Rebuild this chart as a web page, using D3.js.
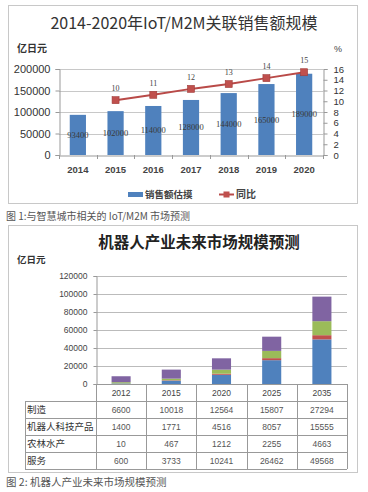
<!DOCTYPE html>
<html><head><meta charset="utf-8">
<script src="https://cdn.jsdelivr.net/npm/d3@7"></script>
<style>
html,body{margin:0;padding:0;background:#fff;}
svg{display:block;font-family:"Liberation Sans","Noto Sans CJK SC",sans-serif;}
</style></head>
<body><svg id="c" width="368" height="492"></svg>
<script>
// ---- Chart 1 data ----
const years1 = ["2014","2015","2016","2017","2018","2019","2020"];
const sales = [93400, 102000, 114000, 128000, 144000, 165000, 189000];
const yoyYears = ["2015","2016","2017","2018","2019","2020"];
const yoy = [10.2, 11.2, 12.3, 13.2, 14.3, 15.4];
const leftTicks1 = [0, 50000, 100000, 150000, 200000];
const rightTicks1 = [0, 2, 4, 6, 8, 10, 12, 14, 16];
// ---- Chart 2 data ----
const years2 = ["2012","2015","2020","2025","2035"];
const rowNames = ["制造","机器人科技产品","农林水产","服务"];
const manufacturing = [6600, 10018, 12564, 15807, 27294];
const robotTech = [1400, 1771, 4516, 8057, 15555];
const agriculture = [10, 467, 1212, 2255, 4663];
const services = [600, 3733, 10241, 26462, 49568];
const leftTicks2 = [0, 20000, 40000, 60000, 80000, 100000, 120000];

const svg = d3.select("#c");
const CJK = "'Noto Sans CJK SC',sans-serif";

// ================= Chart 1 =================
const g1 = svg.append("g");
g1.append("rect").attr("x",8.5).attr("y",5.5).attr("width",349).attr("height",198)
  .attr("fill","#fff").attr("stroke","#c8c8c8");
g1.append("text").attr("x",184).attr("y",29).attr("text-anchor","middle")
  .style("font-family",CJK).style("font-size","16px").attr("fill","#333")
  .text("2014-2020年IoT/M2M关联销售额规模");
g1.append("text").attr("x",17).attr("y",52).style("font-family",CJK).style("font-size","10px")
  .style("font-weight","bold").attr("fill","#333").text("亿日元");
g1.append("text").attr("x",334).attr("y",52).style("font-size","9px").attr("fill","#444").text("%");

const x1 = d3.scaleBand().domain(years1).range([59,323]).paddingInner(0.57).paddingOuter(0.285);
const y1 = d3.scaleLinear().domain([0,200000]).range([155,69]);
const yR = d3.scaleLinear().domain([0,16]).range([155,69]);

// gridlines
g1.append("g").selectAll("line").data(leftTicks1.slice(1)).join("line")
  .attr("x1",59).attr("x2",323).attr("y1",d=>Math.round(y1(d))+0.5).attr("y2",d=>Math.round(y1(d))+0.5)
  .attr("stroke","#c8c8c8");

// left axis
const la = g1.append("g").attr("transform","translate(59.5,0)")
  .call(d3.axisLeft(y1).tickValues(leftTicks1).tickSize(4).tickPadding(5).tickFormat(d3.format("d")));
la.select(".domain").attr("stroke","#999");
la.selectAll(".tick line").attr("stroke","#999");
la.selectAll("text").style("font-size","11px").attr("fill","#333");

// right axis
const ra = g1.append("g").attr("transform","translate(323.5,0)")
  .call(d3.axisRight(yR).tickValues(rightTicks1).tickSize(4).tickPadding(6));
ra.select(".domain").attr("stroke","#999");
ra.selectAll(".tick line").attr("stroke","#999");
ra.selectAll("text").style("font-size","9.5px").attr("fill","#333");

// bars
g1.append("g").selectAll("rect").data(years1).join("rect")
  .attr("x",d=>x1(d)).attr("width",x1.bandwidth())
  .attr("y",(d,i)=>y1(sales[i])).attr("height",(d,i)=>y1(0)-y1(sales[i]))
  .attr("fill","#4f81bd");

// x axis
const xa = g1.append("g").attr("transform","translate(0,155.5)")
  .call(d3.axisBottom(x1).tickSize(0).tickPadding(11));
xa.select(".domain").attr("stroke","#999");
xa.selectAll("text").style("font-size","9.5px").style("font-weight","bold").attr("fill","#444");
g1.append("g").selectAll("line").data(d3.range(years1.length+1)).join("line")
  .attr("x1",i=>Math.round(59+i*x1.step())+0.5).attr("x2",i=>Math.round(59+i*x1.step())+0.5)
  .attr("y1",155).attr("y2",159).attr("stroke","#999");

// bar labels (centered)
g1.append("g").selectAll("text").data(years1).join("text")
  .attr("x",d=>x1(d)+x1.bandwidth()/2).attr("y",(d,i)=>y1(sales[i]/2)+3)
  .attr("text-anchor","middle").style("font-size","8.5px").attr("fill","#3a3a3a")
  .style("font-family","'Liberation Serif',serif")
  .text((d,i)=>sales[i]);

// line
const lineGen = d3.line().x(d=>x1(d.y)+x1.bandwidth()/2).y(d=>yR(d.v));
const lineData = yoyYears.map((y,i)=>({y, v:yoy[i]}));
g1.append("path").datum(lineData).attr("d",lineGen).attr("fill","none")
  .attr("stroke","#b94a48").attr("stroke-width",2);
g1.append("g").selectAll("rect").data(lineData).join("rect")
  .attr("x",d=>x1(d.y)+x1.bandwidth()/2-3.5).attr("y",d=>yR(d.v)-3.5)
  .attr("width",7).attr("height",7).attr("fill","#c0504d").attr("stroke","#a03c3a").attr("stroke-width",0.6);
g1.append("g").selectAll("text").data(lineData).join("text")
  .attr("x",d=>x1(d.y)+x1.bandwidth()/2).attr("y",d=>yR(d.v)-9)
  .attr("text-anchor","middle").style("font-size","8px").attr("fill","#444")
  .style("font-family","'Liberation Serif',serif")
  .text(d=>d3.format(".0f")(d.v));

// legend
g1.append("rect").attr("x",128).attr("y",192).attr("width",15).attr("height",5).attr("fill","#4f81bd");
g1.append("text").attr("x",145).attr("y",198).style("font-family",CJK).style("font-size","9.5px")
  .style("font-weight","bold").attr("fill","#444").text("销售额估摸");
g1.append("line").attr("x1",219).attr("x2",234).attr("y1",194.5).attr("y2",194.5).attr("stroke","#b94a48").attr("stroke-width",2);
g1.append("rect").attr("x",223.5).attr("y",191.5).attr("width",6).attr("height",6).attr("fill","#c0504d");
g1.append("text").attr("x",236).attr("y",198).style("font-family",CJK).style("font-size","10px")
  .style("font-weight","bold").attr("fill","#444").text("同比");

// caption 1
svg.append("text").attr("x",6).attr("y",220).style("font-family",CJK).style("font-size","10px")
  .attr("fill","#555").text("图 1:与智慧城市相关的 IoT/M2M 市场预测");

// ================= Chart 2 =================
const g2 = svg.append("g");
g2.append("rect").attr("x",8.5).attr("y",225.5).attr("width",349).attr("height",247)
  .attr("fill","#fff").attr("stroke","#c8c8c8");
g2.append("text").attr("x",199).attr("y",248).attr("text-anchor","middle")
  .style("font-family",CJK).style("font-size","15.5px").style("font-weight","bold").attr("fill","#222")
  .text("机器人产业未来市场规模预测");
g2.append("text").attr("x",17).attr("y",263).style("font-family",CJK).style("font-size","9.5px")
  .style("font-weight","bold").attr("fill","#333").text("亿日元");

const x2 = d3.scaleBand().domain(years2).range([96,347]).paddingInner(0.62).paddingOuter(0.31);
const y2 = d3.scaleLinear().domain([0,120000]).range([384,276]);

g2.append("g").selectAll("line").data(leftTicks2.slice(1)).join("line")
  .attr("x1",96).attr("x2",347).attr("y1",d=>Math.round(y2(d))+0.5).attr("y2",d=>Math.round(y2(d))+0.5)
  .attr("stroke","#bbb");
const la2 = g2.append("g").attr("transform","translate(96.5,0)")
  .call(d3.axisLeft(y2).tickValues(leftTicks2).tickSize(3).tickPadding(6).tickFormat(d3.format("d")));
la2.select(".domain").attr("stroke","#999");
la2.selectAll(".tick line").attr("stroke","#999");
la2.selectAll("text").style("font-size","8.5px").attr("fill","#444");

const rows2 = years2.map((y,i)=>({year:y, services:services[i], agriculture:agriculture[i], robotTech:robotTech[i], manufacturing:manufacturing[i]}));
const keys = ["services","agriculture","robotTech","manufacturing"];
const colors = {services:"#4f81bd", agriculture:"#c0504d", robotTech:"#9bbb59", manufacturing:"#8064a2"};
const stack = d3.stack().keys(keys)(rows2);
g2.append("g").selectAll("g").data(stack).join("g").attr("fill",s=>colors[s.key])
  .selectAll("rect").data(s=>s).join("rect")
  .attr("x",d=>x2(d.data.year)).attr("width",x2.bandwidth())
  .attr("y",d=>y2(d[1])).attr("height",d=>y2(d[0])-y2(d[1]));

// table
const step = x2.step();
const tTop = 384, hdrBottom = 401, rowH = 17;
const tBottom = hdrBottom + rowH*rowNames.length;
const tg = g2.append("g").attr("stroke","#999").attr("fill","none");
tg.append("line").attr("x1",96).attr("x2",347).attr("y1",tTop+0.5).attr("y2",tTop+0.5);
d3.range(rowNames.length+1).forEach(r=>{
  tg.append("line").attr("x1",25).attr("x2",347).attr("y1",hdrBottom+r*rowH+0.5).attr("y2",hdrBottom+r*rowH+0.5);
});
tg.append("line").attr("x1",25.5).attr("x2",25.5).attr("y1",hdrBottom).attr("y2",tBottom);
d3.range(years2.length+1).forEach(i=>{
  const xx = Math.round(96+i*step)+0.5;
  tg.append("line").attr("x1",xx).attr("x2",xx).attr("y1",tTop).attr("y2",tBottom);
});
g2.append("g").selectAll("text").data(years2).join("text")
  .attr("x",d=>x2(d)+x2.bandwidth()/2).attr("y",396).attr("text-anchor","middle")
  .style("font-size","8.5px").attr("fill","#444").text(d=>d);
const tableVals = [manufacturing, robotTech, agriculture, services];
rowNames.forEach((name,r)=>{
  const yy = hdrBottom + r*rowH + 12;
  g2.append("text").attr("x",27).attr("y",yy).style("font-family",CJK).style("font-size","9.5px")
    .attr("fill","#333").text(name);
  g2.append("g").selectAll("text").data(years2).join("text")
    .attr("x",d=>x2(d)+x2.bandwidth()/2).attr("y",yy).attr("text-anchor","middle")
    .style("font-size","8.5px").attr("fill","#555").text((d,i)=>tableVals[r][i]);
});

// caption 2
svg.append("text").attr("x",6).attr("y",486).style("font-family",CJK).style("font-size","10.5px")
  .attr("fill","#555").text("图 2: 机器人产业未来市场规模预测");
</script></body></html>
